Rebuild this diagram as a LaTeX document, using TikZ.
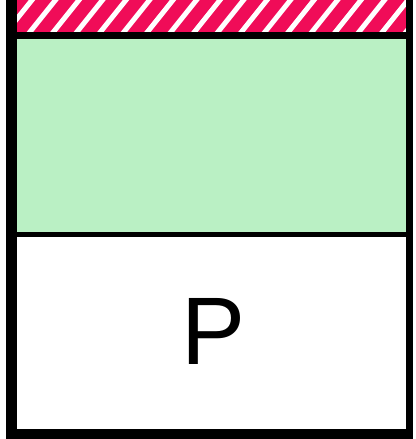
\documentclass[tikz,border=0pt]{standalone}
\usepackage{fontspec}
\setmainfont{Liberation Sans}
\definecolor{hatchred}{RGB}{240,12,88}
\definecolor{paleGreen}{RGB}{186,240,196}
\begin{document}
\begin{tikzpicture}[x=1pt,y=-1pt,
  frameline/.style={black,line cap=butt},
  stripe/.style={white,line width=5pt}]
\useasboundingbox (0,0) rectangle (415,439);
% hatched band
\begin{scope}
\clip (11,0) rectangle (409,35.5);
\fill[hatchred] (11,0) rectangle (409,35.5);
\foreach \i in {-3,...,20} {
  \draw[stripe] (\i*23.5,40) -- (\i*23.5+36,-5);
}
\end{scope}
% green section
\fill[paleGreen] (11,35.5) rectangle (409,234.5);
% white section
\fill[white] (11,234.5) rectangle (409,432);
% separators
\draw[frameline,line width=7pt] (6,35.5) -- (413,35.5);
\draw[frameline,line width=5.5pt] (6,234.5) -- (413,234.5);
% frame
\draw[frameline,line width=11pt] (11.5,0) -- (11.5,439);
\draw[frameline,line width=7.5pt] (409.5,0) -- (409.5,439);
\draw[frameline,line width=10pt] (6,434) -- (413,434);
\node[anchor=base,font=\fontsize{96}{96}\selectfont,inner sep=0pt] (p) at (214,364) {P};
\end{tikzpicture}
\end{document}
